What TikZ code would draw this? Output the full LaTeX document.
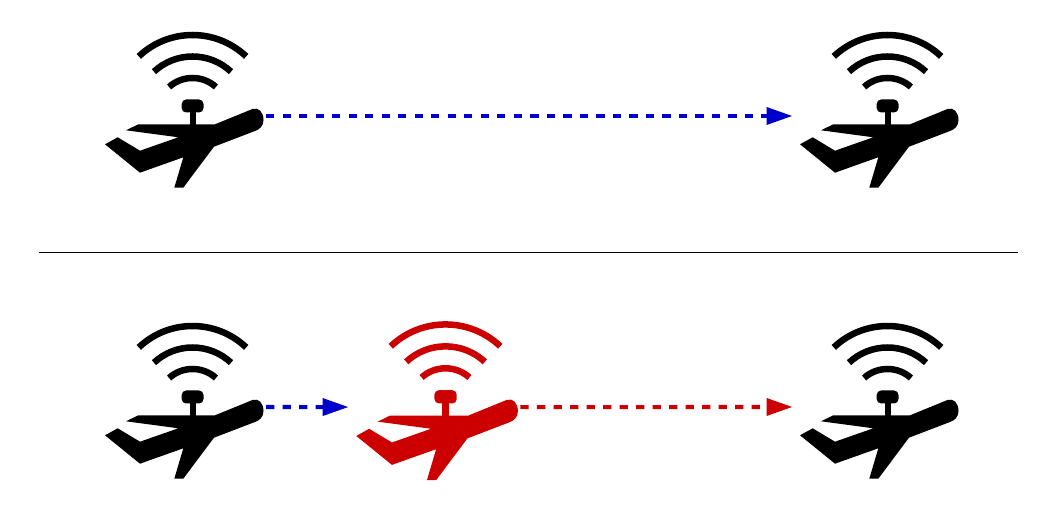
\documentclass[tikz,border=0pt]{standalone}
\usepackage{tikz}
\usetikzlibrary{arrows.meta}

\definecolor{linkblue}{HTML}{0000CC}
\definecolor{linkred}{HTML}{CC0000}

\tikzset{
 link/.style={line width=2.3pt,dash pattern=on 4.7pt off 4.7pt,
  -{Triangle[length=14.8pt,width=9.6pt]}},
 wave/.style={line width=3.7pt,line cap=butt}
}

\begin{document}
\begin{tikzpicture}[x=.02cm,y=.02cm]

\newcommand{\plane}[5][black] % [color][name][x][y][scale]
{
 \begin{scope}[shift={(#3,#4)},scale=#5]
  \draw[#1,wave] (90-43.5:78) arc (90-43.5:90+43.5:78);
  \draw[#1,wave] (90-43:56.5) arc (90-43:90+43:56.5);
  \draw[#1,wave] (90-42:35) arc (90-42:90+42:35);
  \fill[#1,rounded corners=2.5pt] (-10.8,0.5) rectangle (11,13.5);
  \fill[#1] (-3,2) rectangle (3.6,-12);
  \fill[#1] (60,4) .. controls (66,6) and (71,1) .. (71,-7)
   .. controls (71,-13) and (67,-16.5) .. (62.5,-18)
   -- (21.5,-33.7) -- (-9.2,-74.7) -- (-18.2,-74.7) -- (-9.2,-44.3)
   -- (-52.5,-59.7) -- (-87.5,-31.3) -- (-74.8,-24.3) -- (-52.5,-37.7)
   -- (-14.2,-24.3) -- (-66.5,-17.3) -- (-54.2,-11.3) -- (22.5,-11.3) -- cycle;
  \coordinate (#2-out) at (73.5,-3);
  \coordinate (#2-in) at (-95,-3);
 \end{scope}
}

\useasboundingbox (0,0) rectangle (1058,520);

\def\xa {192.5} \def\xb {887.5} \def\xc {445.5}
\def\yt {407} \def\yb {116}

\plane{srcTop}{\xa}{\yt}{1}
\plane{dstTop}{\xb}{\yt}{1}
\plane{srcBot}{\xa}{\yb}{1}
\plane[linkred]{relay}{\xc}{\yb}{1.02}
\plane{dstBot}{\xb}{\yb}{1}

\draw[link,linkblue] (srcTop-out) -- (dstTop-in);
\draw[link,linkblue] (srcBot-out) -- (relay-in);
\draw[link,linkred] (relay-out) -- (dstBot-in);

% separator
\coordinate (sepL) at (39,267.5);
\coordinate (sepR) at (1018,267.5);
\draw[black,line width=.6pt] (sepL) -- (sepR);

\end{tikzpicture}
\end{document}
